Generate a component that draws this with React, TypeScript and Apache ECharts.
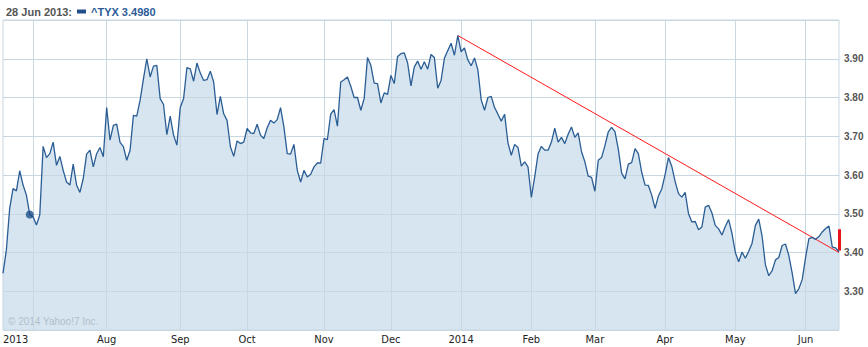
import React, { useEffect, useRef } from "react";
import * as echarts from "echarts";

// ---- data -------------------------------------------------------------
const FIRST_DAY = "2013-06-18";
const LAST_DAY = "2014-06-16";
const HOLIDAYS = [
  "2013-07-04", "2013-09-02", "2013-11-28", "2013-12-25", "2014-01-01",
  "2014-01-20", "2014-02-17", "2014-04-18", "2014-05-26",
];
const MONTHS = ["Jan", "Feb", "Mar", "Apr", "May", "Jun", "Jul", "Aug", "Sep", "Oct", "Nov", "Dec"];

// ^TYX daily closes (30-year Treasury yield), one per trading day
const values = [
  3.346, 3.406, 3.514, 3.565, 3.559, 3.611, 3.574, 3.548, 3.498, 3.492,
  3.471, 3.497, 3.674, 3.645, 3.655, 3.685, 3.625, 3.648, 3.612, 3.582,
  3.574, 3.628, 3.574, 3.555, 3.591, 3.654, 3.664, 3.621, 3.655, 3.671,
  3.647, 3.774, 3.690, 3.728, 3.731, 3.684, 3.673, 3.638, 3.664, 3.754,
  3.752, 3.793, 3.848, 3.900, 3.853, 3.881, 3.883, 3.797, 3.782, 3.704,
  3.752, 3.703, 3.677, 3.774, 3.797, 3.877, 3.874, 3.842, 3.889, 3.863,
  3.844, 3.846, 3.868, 3.840, 3.756, 3.803, 3.758, 3.741, 3.673, 3.648,
  3.688, 3.681, 3.685, 3.720, 3.709, 3.707, 3.731, 3.703, 3.694, 3.722,
  3.741, 3.734, 3.743, 3.774, 3.724, 3.655, 3.654, 3.679, 3.612, 3.582,
  3.612, 3.595, 3.602, 3.621, 3.631, 3.631, 3.694, 3.691, 3.757, 3.769,
  3.726, 3.840, 3.846, 3.853, 3.829, 3.800, 3.800, 3.767, 3.797, 3.903,
  3.883, 3.837, 3.836, 3.786, 3.812, 3.808, 3.857, 3.836, 3.906, 3.913,
  3.915, 3.889, 3.830, 3.879, 3.894, 3.873, 3.892, 3.873, 3.911, 3.903,
  3.824, 3.844, 3.901, 3.921, 3.940, 3.909, 3.960, 3.918, 3.928, 3.897,
  3.882, 3.902, 3.872, 3.794, 3.767, 3.800, 3.803, 3.774, 3.757, 3.739,
  3.757, 3.683, 3.651, 3.679, 3.671, 3.623, 3.634, 3.621, 3.542, 3.595,
  3.654, 3.674, 3.664, 3.664, 3.685, 3.721, 3.685, 3.697, 3.681, 3.705,
  3.724, 3.697, 3.709, 3.660, 3.634, 3.597, 3.594, 3.558, 3.638, 3.645,
  3.676, 3.711, 3.723, 3.712, 3.667, 3.605, 3.590, 3.628, 3.632, 3.668,
  3.655, 3.607, 3.574, 3.573, 3.548, 3.514, 3.546, 3.564, 3.601, 3.645,
  3.622, 3.583, 3.552, 3.543, 3.555, 3.500, 3.479, 3.480, 3.459, 3.466,
  3.517, 3.522, 3.502, 3.470, 3.461, 3.445, 3.467, 3.485, 3.449, 3.400,
  3.376, 3.401, 3.385, 3.403, 3.424, 3.470, 3.486, 3.442, 3.368, 3.340,
  3.353, 3.381, 3.387, 3.418, 3.422, 3.392, 3.347, 3.294, 3.307, 3.330,
  3.387, 3.436, 3.439, 3.434, 3.441, 3.453, 3.462, 3.468, 3.414, 3.412,
  3.402,
];

const yTicks = { min: 3.2, max: 4.0, step: 0.1 };
const highlightIndex = 8; // 28 Jun 2013
const trendStart = { index: 136, value: 3.96 };
const trendEnd = { index: 250, value: 3.4 };
const lastBar = { low: 3.405, high: 3.46 };
const SERIES_NAME = "^TYX";

// trading-day categories (weekdays minus market holidays)
function buildTradingDays(): string[] {
  const out: string[] = [];
  const d = new Date(FIRST_DAY + "T00:00:00Z");
  const end = new Date(LAST_DAY + "T00:00:00Z");
  while (d <= end) {
    const wd = d.getUTCDay();
    const s = d.toISOString().slice(0, 10);
    if (wd !== 0 && wd !== 6 && HOLIDAYS.indexOf(s) < 0) out.push(s);
    d.setUTCDate(d.getUTCDate() + 1);
  }
  return out;
}
const dates = buildTradingDays();

const monthOf = (s: string) => Number(s.slice(5, 7)) - 1;
const isMonthStart = (i: number) => i > 0 && monthOf(dates[i]) !== monthOf(dates[i - 1]);
const firstMonthStart = dates.findIndex((_, i) => isMonthStart(i));

function fmtHeaderDate(s: string) {
  return `${Number(s.slice(8, 10))} ${MONTHS[monthOf(s)]} ${s.slice(0, 4)}`;
}

export default function App() {
  const ref = useRef<HTMLDivElement>(null);

  useEffect(() => {
    if (!ref.current) return;
    const chart = echarts.init(ref.current, undefined, { renderer: "svg" });
    const n = Math.min(dates.length, values.length);
    const cats = dates.slice(0, n);
    const vals = values.slice(0, n);
    const gridColor = "#c9d7e1";
    const labelFont = '"Liberation Sans Narrow", "DejaVu Sans Condensed", "Liberation Sans", sans-serif';

    chart.setOption({
      animation: false,
      backgroundColor: "#ffffff",
      title: {
        text: `${fmtHeaderDate(cats[highlightIndex])}:`,
        left: 6,
        top: 5,
        padding: 0,
        textStyle: {
          fontSize: 11,
          lineHeight: 13,
          fontWeight: "bold",
          color: "#555555",
          fontFamily: '"Liberation Sans", Arial, sans-serif',
        },
      },
      legend: {
        data: [SERIES_NAME],
        left: 77,
        top: 5,
        padding: 0,
        icon: "rect",
        itemWidth: 9,
        itemHeight: 4,
        selectedMode: false,
        formatter: (name: string) => `${name} ${vals[highlightIndex].toFixed(4)}`,
        textStyle: {
          fontSize: 11,
          lineHeight: 13,
          fontWeight: "bold",
          color: "#2b5c97",
          fontFamily: '"Liberation Sans", Arial, sans-serif',
        },
      },
      grid: {
        left: 3,
        right: 29,
        top: 20,
        bottom: 17,
        show: true,
        borderColor: gridColor,
        borderWidth: 1,
        z: 3,
      },
      xAxis: {
        type: "category",
        data: cats,
        boundaryGap: false,
        z: 3,
        axisLine: { show: false },
        axisTick: { show: false },
        splitLine: {
          show: true,
          interval: (i: number) => isMonthStart(i),
          lineStyle: { color: gridColor, width: 1 },
        },
        axisLabel: {
          interval: (i: number) => i === 0 || (isMonthStart(i) && i !== firstMonthStart),
          formatter: (v: string, i: number) => {
            const m = monthOf(v);
            if (i === 0 || m === 0) return v.slice(0, 4);
            return MONTHS[m];
          },
          alignMinLabel: "left",
          margin: 4,
          fontSize: 11,
          color: "#222222",
          fontFamily: labelFont,
        },
      },
      yAxis: {
        type: "value",
        position: "right",
        min: yTicks.min,
        max: yTicks.max,
        interval: yTicks.step,
        z: 3,
        axisLine: { show: false },
        axisTick: { show: false },
        splitLine: { show: true, lineStyle: { color: gridColor, width: 1 } },
        axisLabel: {
          margin: 5,
          fontSize: 10,
          fontWeight: "bold",
          color: "#555555",
          fontFamily: '"Liberation Sans", Arial, sans-serif',
          formatter: (v: number) =>
            v < yTicks.min + yTicks.step / 2 || v > yTicks.max - yTicks.step / 2 ? "" : v.toFixed(2),
        },
      },
      graphic: [
        {
          type: "text",
          left: 8,
          top: 316,
          z: 10,
          style: {
            text: "© 2014 Yahoo!7 Inc.",
            fill: "#b2bfca",
            font: '10px "Liberation Sans", Arial, sans-serif',
          },
        },
      ],
      series: [
        {
          type: "line",
          name: "area",
          data: vals,
          z: 1,
          silent: true,
          showSymbol: false,
          symbol: "none",
          lineStyle: { width: 0 },
          areaStyle: { color: "#d6e5f0", opacity: 1 },
        },
        {
          type: "line",
          name: SERIES_NAME,
          data: vals,
          z: 5,
          showSymbol: false,
          symbol: "none",
          itemStyle: { color: "#1f4e8a" },
          lineStyle: { color: "#2a5d94", width: 1.3 },
          markLine: {
            silent: true,
            symbol: ["none", "none"],
            label: { show: false },
            lineStyle: { color: "#ff1a1a", width: 1, type: "solid" },
            data: [
              [
                { coord: [trendStart.index, trendStart.value] },
                { coord: [trendEnd.index, trendEnd.value] },
              ],
              [
                { coord: [n - 1, lastBar.low], lineStyle: { color: "#e8141c", width: 3, type: "solid" } },
                { coord: [n - 1, lastBar.high] },
              ],
            ],
          },
        },
        {
          type: "scatter",
          name: "marker",
          z: 6,
          symbolSize: 8,
          itemStyle: { color: "#1c4f88" },
          data: [[highlightIndex, vals[highlightIndex]]],
        },
      ],
    });

    return () => chart.dispose();
  }, []);

  return (
    <div
      ref={ref}
      style={{ position: "fixed", left: 0, top: 0, width: 868, height: 347, background: "#fff" }}
    />
  );
}
